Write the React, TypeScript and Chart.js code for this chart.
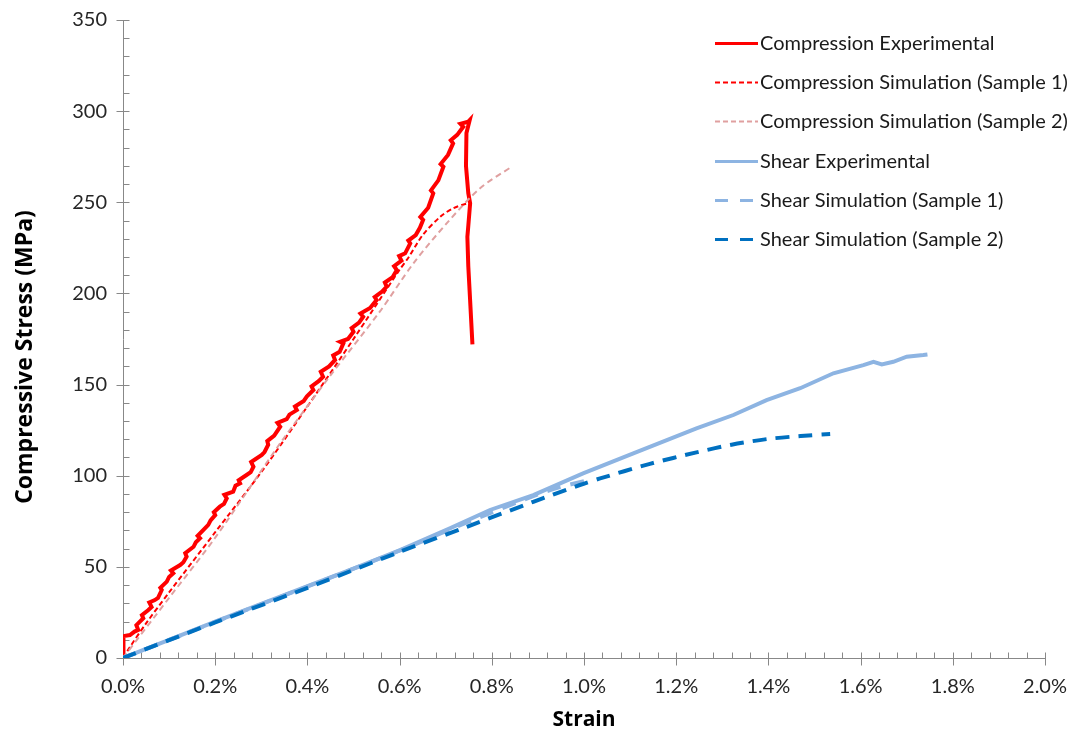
import React, { useEffect, useRef } from "react";
import { Chart, registerables } from "chart.js";

Chart.register(...registerables);

// ---- Data (strain in %, stress in MPa) ----
const compExpStrain = [
  0, 0.0, 0.002, 0.015, 0.025, 0.033, 0.029, 0.044, 0.041, 0.055, 0.062, 0.057, 0.069, 0.076, 0.084, 0.081,
  0.095, 0.1, 0.109, 0.104, 0.124, 0.131, 0.138, 0.135, 0.153, 0.158, 0.167, 0.162, 0.185, 0.19, 0.2,
  0.197, 0.21, 0.219, 0.225, 0.22, 0.239, 0.244, 0.254, 0.251, 0.268, 0.277, 0.283, 0.278, 0.301, 0.307,
  0.315, 0.313, 0.328, 0.341, 0.335, 0.355, 0.361, 0.377, 0.373, 0.392, 0.399, 0.413, 0.409, 0.425, 0.434,
  0.429, 0.447, 0.46, 0.456, 0.47, 0.478, 0.471, 0.488, 0.5, 0.496, 0.512, 0.521, 0.515, 0.536, 0.55, 0.546,
  0.562, 0.572, 0.568, 0.585, 0.594, 0.588, 0.604, 0.599, 0.612, 0.623, 0.619, 0.635, 0.644, 0.651, 0.645,
  0.662, 0.673, 0.668, 0.684, 0.695, 0.689, 0.705, 0.716, 0.711, 0.725, 0.738, 0.732, 0.749, 0.752, 0.745,
  0.744, 0.749, 0.753, 0.749, 0.747, 0.749, 0.753, 0.758,
];
const compExpStress = [
  0, 6, 12, 12.6, 14.5, 15.4, 18, 21.8, 23.5, 26.3, 28, 30.5, 31.8, 33, 37.3, 38.5,
  41.9, 44.5, 46.5, 48, 51, 52.5, 55.6, 57.5, 61, 63.5, 65.7, 67, 73, 75.5, 78.4,
  80, 83, 84.5, 87.6, 89.5, 91.2, 94.5, 95.8, 97.5, 100.4, 102, 104.9, 107.5, 111.4, 113,
  117, 119, 122, 126.9, 129, 131, 133.5, 136, 138, 141, 143.5, 147, 149, 152, 154.3,
  157, 160, 163.5, 166, 168, 172.6, 173.5, 175, 179, 181, 184, 187.2, 189, 192, 196.4, 198,
  201, 203.7, 206, 209, 212.8, 215, 218, 220.5, 222, 227.5, 229, 232, 236, 240.3, 242,
  247, 254.9, 256.5, 262, 269.5, 271, 276, 282.3, 284, 287, 291.4, 293, 294.2, 295, 288,
  270, 255, 249.4, 237, 231, 215, 196, 172,
];

const compSim1Strain = [0, 0.015, 0.05, 0.1, 0.2, 0.3, 0.4, 0.5, 0.6, 0.62, 0.65, 0.688, 0.716, 0.749];
const compSim1Stress = [0, 6, 19, 36, 69, 102, 138, 175, 213, 220, 232, 242, 246.7, 249.6];

const compSim2Strain = [0, 0.1, 0.2, 0.341, 0.45, 0.557, 0.63, 0.702, 0.774, 0.843];
const compSim2Stress = [0, 33, 66, 117.8, 155, 190, 216.5, 238.4, 257.6, 269.5];

const shearExpStrain = [
  0, 0.1, 0.2, 0.3, 0.416, 0.5, 0.601, 0.709, 0.796, 0.89, 0.998, 1.107, 1.244, 1.324, 1.396, 1.469,
  1.541, 1.606, 1.628, 1.646, 1.671, 1.7, 1.736, 1.745,
];
const shearExpStress = [
  0, 10, 19.9, 29.7, 41, 49, 59.2, 71.1, 81.2, 89.4, 101.3, 112.3, 126, 133.3, 141.5, 148,
  156.2, 160.7, 162.5, 161.1, 162.5, 165.3, 166.2, 166.5,
];

const shearSim1Strain = [0, 0.2, 0.416, 0.601, 0.709, 0.796, 0.897, 0.944, 1.0];
const shearSim1Stress = [0, 19.8, 40.8, 59, 70.5, 79.5, 89.5, 93.5, 97];

const shearSim2Strain = [0, 0.2, 0.416, 0.601, 0.746, 0.89, 0.991, 1.035, 1.143, 1.244, 1.32, 1.397, 1.47, 1.534];
const shearSim2Stress = [0, 19.5, 40, 58.3, 72, 85.7, 94.9, 98.5, 106.5, 112.8, 117, 120.1, 121.8, 122.9];

const seriesLabels = [
  "Compression Experimental",
  "Compression Simulation (Sample 1)",
  "Compression Simulation (Sample 2)",
  "Shear Experimental",
  "Shear Simulation (Sample 1)",
  "Shear Simulation (Sample 2)",
];

const xTitle = "Strain";
const yTitle = "Compressive Stress (MPa)";

const FONT = "Lato, 'Open Sans', sans-serif";
const TITLE_FONT = "'Open Sans', Lato, sans-serif";

function pts(xs: number[], ys: number[]) {
  return xs.map((x, i) => ({ x, y: ys[i] }));
}

const axisPlugin = {
  id: "customAxes",
  beforeDatasetsDraw(chart: any) {
    const { ctx, scales } = chart;
    const xs = scales.x;
    const ys = scales.y;
    const x0 = Math.round(xs.getPixelForValue(0)) + 0.5;
    const x1 = Math.round(xs.getPixelForValue(2)) + 0.5;
    const y0 = Math.round(ys.getPixelForValue(0)) + 0.5;
    const y1 = Math.round(ys.getPixelForValue(350)) + 0.5;
    ctx.save();
    ctx.strokeStyle = "#888888";
    ctx.lineWidth = 1;
    ctx.beginPath();
    ctx.moveTo(x0, y1);
    ctx.lineTo(x0, y0);
    ctx.moveTo(x0, y0);
    ctx.lineTo(x1, y0);
    for (let v = 0; v <= 350 + 1e-9; v += 10) {
      const py = Math.round(ys.getPixelForValue(v)) + 0.5;
      const major = Math.abs(v % 50) < 1e-6;
      ctx.moveTo(major ? x0 - 7 : x0, py);
      ctx.lineTo(x0 + 6, py);
    }
    for (let i = 0; i <= 50; i++) {
      const v = i * 0.04;
      const px = Math.round(xs.getPixelForValue(v)) + 0.5;
      const major = i % 5 === 0;
      ctx.moveTo(px, y0 - 6);
      ctx.lineTo(px, major ? y0 + 7 : y0);
    }
    ctx.stroke();
    ctx.restore();
  },
  afterDraw(chart: any) {
    const { ctx, chartArea } = chart;
    // y-axis title
    ctx.save();
    ctx.translate(25, (chartArea.top + chartArea.bottom) / 2 + 18);
    ctx.rotate(-Math.PI / 2);
    ctx.textAlign = "center";
    ctx.textBaseline = "middle";
    ctx.fillStyle = "#000000";
    ctx.font = `bold 23px ${TITLE_FONT}`;
    ctx.fillText(yTitle, 0, 0);
    ctx.restore();

    // legend
    const lx = chartArea.right - 330;
    const ly = chartArea.top + 23;
    ctx.save();
    chart.data.datasets.forEach((ds: any, i: number) => {
      const cy = Math.round(ly + i * 39.2);
      ctx.beginPath();
      ctx.strokeStyle = ds.borderColor;
      ctx.lineWidth = ds.legendWidth || ds.borderWidth;
      ctx.setLineDash(ds.legendDash || []);
      ctx.lineCap = "butt";
      ctx.moveTo(lx, cy + 0.5);
      ctx.lineTo(lx + 43, cy + 0.5);
      ctx.stroke();
      ctx.setLineDash([]);
      ctx.fillStyle = "#1a1a1a";
      ctx.font = `20px ${FONT}`;
      ctx.textAlign = "left";
      ctx.textBaseline = "middle";
      ctx.fillText(ds.label, lx + 45, cy + 1);
    });
    ctx.restore();
  },
};

export default function App() {
  const ref = useRef<HTMLCanvasElement | null>(null);

  useEffect(() => {
    if (!ref.current) return;
    const chart = new Chart(ref.current, {
      type: "line",
      data: {
        datasets: [
          {
            label: seriesLabels[0],
            data: pts(compExpStrain, compExpStress),
            borderColor: "#FF0000",
            backgroundColor: "#FF0000",
            borderWidth: 4,
            legendWidth: 3,
            pointRadius: 0,
            tension: 0,
            order: 6,
          },
          {
            label: seriesLabels[1],
            data: pts(compSim1Strain, compSim1Stress),
            borderColor: "#FF0000",
            backgroundColor: "#FF0000",
            borderWidth: 2,
            borderDash: [5, 3],
            legendDash: [5, 3],
            pointRadius: 0,
            tension: 0.3,
            order: 5,
          },
          {
            label: seriesLabels[2],
            data: pts(compSim2Strain, compSim2Stress),
            borderColor: "#E0A0A0",
            backgroundColor: "#E0A0A0",
            borderWidth: 2,
            borderDash: [6, 4],
            legendDash: [5, 3],
            pointRadius: 0,
            tension: 0.3,
            order: 4,
          },
          {
            label: seriesLabels[3],
            data: pts(shearExpStrain, shearExpStress),
            borderColor: "#8DB4E2",
            backgroundColor: "#8DB4E2",
            borderWidth: 4,
            legendWidth: 3,
            pointRadius: 0,
            tension: 0,
            order: 3,
          },
          {
            label: seriesLabels[4],
            data: pts(shearSim1Strain, shearSim1Stress),
            borderColor: "#8DB4E2",
            backgroundColor: "#8DB4E2",
            borderWidth: 4,
            borderDash: [14, 10],
            legendDash: [13, 12],
            legendWidth: 3,
            pointRadius: 0,
            tension: 0.3,
            order: 2,
          },
          {
            label: seriesLabels[5],
            data: pts(shearSim2Strain, shearSim2Stress),
            borderColor: "#0070C0",
            backgroundColor: "#0070C0",
            borderWidth: 4,
            borderDash: [14, 9],
            legendDash: [13, 12],
            legendWidth: 3,
            pointRadius: 0,
            tension: 0.3,
            order: 1,
          },
        ],
      },
      options: {
        animation: false,
        responsive: false,
        devicePixelRatio: 1,
        layout: { padding: { top: 20, right: 30, left: 0, bottom: 0 } },
        plugins: {
          tooltip: { enabled: false },
          legend: { display: false },
        },
        scales: {
          x: {
            type: "linear",
            min: 0,
            max: 2,
            grid: { display: false, drawTicks: false },
            border: { display: false },
            afterFit: (s: any) => {
              s.height = 75;
              s.paddingLeft = 0;
              s.paddingRight = 0;
            },
            ticks: {
              stepSize: 0.2,
              padding: 17,
              color: "#262626",
              font: { family: FONT, size: 20 },
              maxRotation: 0,
              callback: (v: any) => Number(v).toFixed(1) + "%",
            },
            title: {
              display: true,
              text: xTitle,
              color: "#000000",
              font: { family: TITLE_FONT, size: 21, weight: "bold" },
              padding: { top: 0, bottom: 0 },
            },
          },
          y: {
            type: "linear",
            min: 0,
            max: 350,
            grid: { display: false, drawTicks: false },
            border: { display: false },
            afterFit: (s: any) => {
              s.width = 123;
              s.paddingTop = 0;
              s.paddingBottom = 0;
            },
            ticks: {
              stepSize: 50,
              padding: 16,
              color: "#262626",
              font: { family: FONT, size: 20 },
            },
            title: { display: false },
          },
        },
      },
      plugins: [axisPlugin],
    } as any);
    return () => chart.destroy();
  }, []);

  return (
    <div style={{ position: "fixed", left: 0, top: 0, width: 1075, height: 733, background: "#fff" }}>
      <canvas ref={ref} width={1075} height={733} style={{ display: "block" }} />
    </div>
  );
}
